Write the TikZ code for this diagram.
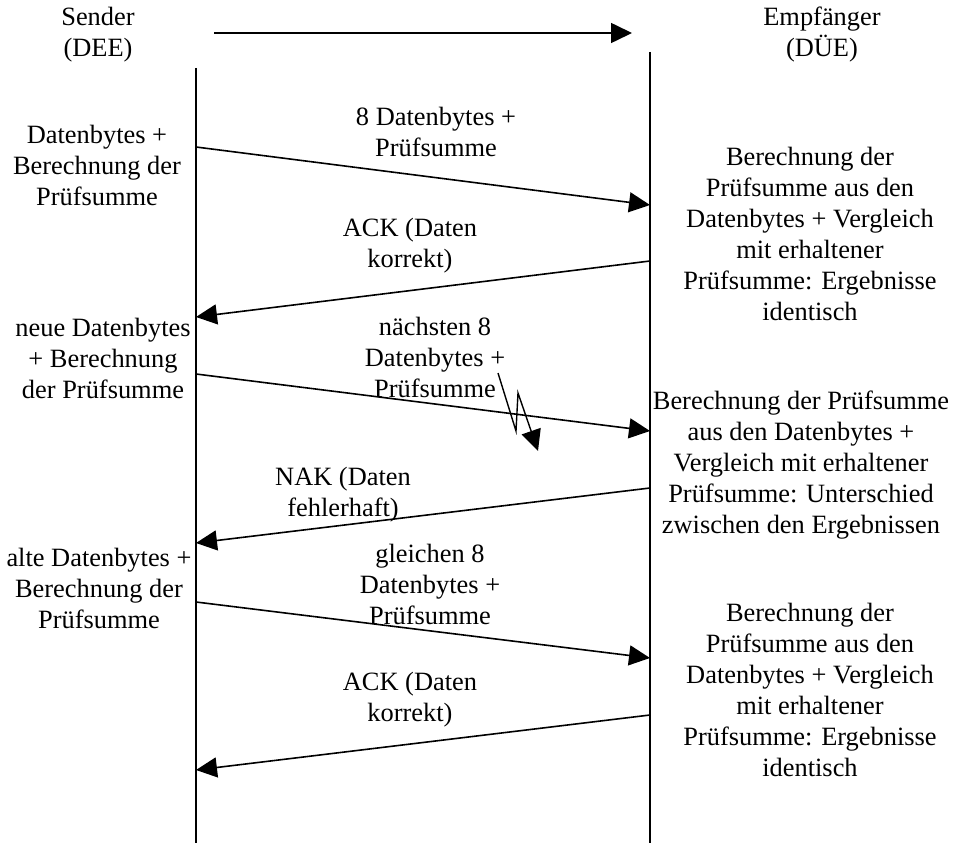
\documentclass[tikz,border=0pt]{standalone}
\usepackage{fontspec}
\setmainfont{Liberation Serif}
\usetikzlibrary{arrows.meta}
\begin{document}
\begin{tikzpicture}[x=1pt,y=-1pt,
  txt/.style={inner sep=0pt, align=center, font=\fontsize{26.4}{31}\selectfont},
  life/.style={line width=1.6pt},
  msg/.style={line width=1.6pt, -{Triangle[length=21pt,width=20pt]}},
  ]
\useasboundingbox (0,0) rectangle (954,843);

% participants
\node[txt] (snd) at (98,35) {Sender\\(DEE)};
\node[txt] (emp) at (822,35) {Empfänger\\(DÜE)};

% life lines
\coordinate (L0) at (196,68);
\coordinate (L1) at (196,843);
\coordinate (R0) at (650,52);
\coordinate (R1) at (650,843);
\draw[life] (L0) -- (L1);
\draw[life] (R0) -- (R1);

% direction arrow
\coordinate (d0) at (214,33);
\coordinate (d1) at (632,33);
\draw[msg] (d0) -- (d1);

% message end points
\coordinate (a1) at (196,147); \coordinate (b1) at (650,205);
\coordinate (b2) at (650,261); \coordinate (a2) at (196,317);
\coordinate (a3) at (196,374); \coordinate (b3) at (650,431);
\coordinate (b4) at (650,488); \coordinate (a4) at (196,543);
\coordinate (a5) at (196,602); \coordinate (b5) at (650,658);
\coordinate (b6) at (650,715); \coordinate (a6) at (196,770);

\draw[msg] (a1) -- (b1);
\draw[msg] (b2) -- (a2);
\draw[msg] (a3) -- (b3);
\draw[msg] (b4) -- (a4);
\draw[msg] (a5) -- (b5);
\draw[msg] (b6) -- (a6);

% lightning bolt (transmission error)
\coordinate (z0) at (498,373);
\coordinate (z1) at (516,431);
\coordinate (z2) at (518,393);
\coordinate (z3) at (538,451);
\draw[line width=1.4pt, -{Triangle[length=21pt,width=20pt]}] (z0) -- (z1) -- (z2) -- (z3);

% sender side
\node[txt] (s1) at (97,165) {Datenbytes +\\Berechnung der\\Prüfsumme};
\node[txt] (s2) at (103,358) {neue Datenbytes\\+ Berechnung\\der Prüfsumme};
\node[txt] (s3) at (99,588) {alte Datenbytes +\\Berechnung der\\Prüfsumme};

% message labels
\node[txt] (m1) at (436,132) {8 Datenbytes +\\Prüfsumme};
\node[txt] (m2) at (410,246) {ACK (Daten\\korrekt)};
\node[txt] (m3) at (435,357) {nächsten 8\\Datenbytes +\\Prüfsumme};
\node[txt] (m4) at (343,495) {NAK (Daten\\fehlerhaft)};
\node[txt] (m5) at (430,584) {gleichen 8\\Datenbytes +\\Prüfsumme};
\node[txt] (m6) at (410,700) {ACK (Daten\\korrekt)};

% receiver side
\node[txt] (r1) at (810,234) {Berechnung der\\Prüfsumme aus den\\Datenbytes + Vergleich\\mit erhaltener\\Prüfsumme: Ergebnisse\\identisch};
\node[txt] (r2) at (801,465) {Berechnung der Prüfsumme\\aus den Datenbytes +\\Vergleich mit erhaltener\\Prüfsumme: Unterschied\\zwischen den Ergebnissen};
\node[txt] (r3) at (810,690) {Berechnung der\\Prüfsumme aus den\\Datenbytes + Vergleich\\mit erhaltener\\Prüfsumme: Ergebnisse\\identisch};
\end{tikzpicture}
\end{document}
